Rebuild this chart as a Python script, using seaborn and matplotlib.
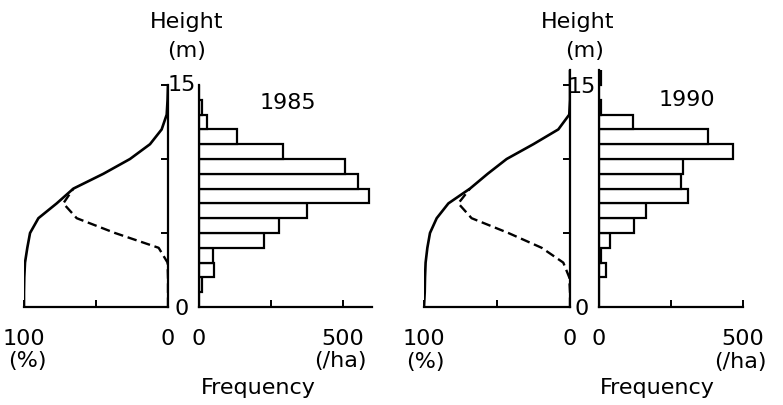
import numpy as np
import pandas as pd
import matplotlib
matplotlib.use("Agg")
import matplotlib.pyplot as plt
from matplotlib.ticker import FixedLocator
import seaborn as sns

# ---------------- data ----------------
heights_1985 = list(range(0, 16))
solid_1985 = [100, 100, 99.8, 99.3, 97.7, 95.8, 90, 77.3, 65.7, 44.9, 26.4, 12.5, 4.4, 0.9, 0.3, 0]
dash_heights = list(range(0, 9))
dashed_1985 = [0, 0, 0, 0.3, 6.5, 36.8, 63.4, 72.7, 65.7]
bins_1985 = list(range(0, 15))
freq_1985 = [0, 10, 52, 48, 224, 278, 373, 588, 550, 508, 293, 133, 27, 9, 0]

heights_1990 = list(range(0, 17))
solid_1990 = [100, 99.5, 99.3, 98.9, 97.7, 95.9, 91.3, 83.3, 68.5, 56.4, 43.4, 25.1, 8.0, 0.5, 0, 0, 0]
dashed_1990 = [0, 0, 0.5, 4.6, 19.4, 42.2, 67.4, 76.5, 68.5]
bins_1990 = list(range(0, 16))
freq_1990 = [0, 0, 25, 8, 39, 120, 162, 310, 283, 293, 467, 378, 118, 6, 0, 6]

years = ["1985", "1990"]

# ---------------- style ----------------
sns.set_style("white")
plt.rcParams["font.family"] = ["DejaVu Sans"]
plt.rcParams["axes.linewidth"] = 1.5
plt.rcParams["text.color"] = "black"
plt.rcParams["xtick.color"] = "black"
plt.rcParams["ytick.color"] = "black"
plt.rcParams["xtick.labelcolor"] = "black"
FS = 16

W, H = 783, 405
fig = plt.figure(figsize=(W / 100, H / 100), dpi=100)
fig.patch.set_facecolor("white")


def box(x0, x1, y0, y1):
    return [x0 / W, 1 - y0 / H, (x1 - x0) / W, (y0 - y1) / H]


def px(x, y):
    return x / W, 1 - y / H


panels = [
    dict(year="1985", h=heights_1985, s=solid_1985, d=dashed_1985, bins=bins_1985, f=freq_1985,
         ytop=15, xmax=600, L=(24, 168), R=(199, 372), ytoppx=307 - 14.8 * 15,
         t15=(182, 85), t0=(182, 309), hx=187, mx=187, yr=(288, 103),
         pct=(27, 361), ha=(340, 361), fq=(258, 388)),
    dict(year="1990", h=heights_1990, s=solid_1990, d=dashed_1990, bins=bins_1990, f=freq_1990,
         ytop=16, xmax=500, L=(424, 570), R=(599, 743), ytoppx=307 - 14.8 * 16,
         t15=(582, 87), t0=(582, 309), hx=578, mx=585, yr=(687, 100),
         pct=(425, 362), ha=(740, 362), fq=(657, 388)),
]

for p in panels:
    # ---- left: cumulative % curves ----
    axl = fig.add_axes(box(p["L"][0], p["L"][1], 307, p["ytoppx"]))
    df_s = pd.DataFrame({"pct": p["s"], "height": p["h"]})
    df_d = pd.DataFrame({"pct": p["d"], "height": dash_heights})
    sns.lineplot(data=df_s, x="pct", y="height", sort=False, estimator=None,
                 color="black", linewidth=1.9, ax=axl)
    sns.lineplot(data=df_d, x="pct", y="height", sort=False, estimator=None,
                 color="black", linewidth=1.7, linestyle=(0, (4, 2)), ax=axl)
    axl.set_xlim(100, 0)
    axl.set_ylim(0, p["ytop"])
    axl.set_xlabel("")
    axl.set_ylabel("")
    for sp in ["top", "left"]:
        axl.spines[sp].set_visible(False)
    for sp in ["bottom", "right"]:
        axl.spines[sp].set_color("black")
        axl.spines[sp].set_linewidth(1.6)
    axl.xaxis.set_major_locator(FixedLocator([100, 0]))
    axl.set_xticklabels(["100", "0"])
    axl.xaxis.set_minor_locator(FixedLocator([50]))
    axl.tick_params(axis="x", which="both", direction="in", length=5, width=1.4,
                    bottom=True, top=False, pad=16, labelsize=FS, labelcolor="black")
    axl.yaxis.tick_right()
    axl.yaxis.set_major_locator(FixedLocator([5, 10, 15]))
    axl.set_yticklabels([])
    axl.tick_params(axis="y", which="both", direction="in", length=5, width=1.4,
                    left=False, right=True, labelright=False)

    # ---- right: frequency histogram ----
    axr = fig.add_axes(box(p["R"][0], p["R"][1], 307, p["ytoppx"]))
    df_b = pd.DataFrame({"height": p["bins"], "freq": p["f"]})
    sns.histplot(data=df_b, y="height", weights="freq", binwidth=1,
                 binrange=(0, len(p["bins"])), color="white", edgecolor="black",
                 linewidth=1.6, alpha=1, ax=axr)
    axr.set_xlim(0, p["xmax"])
    axr.set_ylim(0, p["ytop"])
    axr.set_xlabel("")
    axr.set_ylabel("")
    for sp in ["top", "right"]:
        axr.spines[sp].set_visible(False)
    for sp in ["bottom", "left"]:
        axr.spines[sp].set_color("black")
        axr.spines[sp].set_linewidth(1.6)
    axr.xaxis.set_major_locator(FixedLocator([0, 500]))
    axr.set_xticklabels(["0", "500"])
    axr.xaxis.set_minor_locator(FixedLocator([250]))
    axr.tick_params(axis="x", which="both", direction="in", length=5, width=1.4,
                    bottom=True, top=False, pad=16, labelsize=FS, labelcolor="black")
    axr.set_yticks([])

    # ---- texts ----
    fig.text(*px(*p["t15"]), "15", ha="center", va="center", fontsize=FS)
    fig.text(*px(*p["t0"]), "0", ha="center", va="center", fontsize=FS)
    fig.text(*px(p["hx"], 22), "Height", ha="center", va="center", fontsize=FS)
    fig.text(*px(p["mx"], 51), "(m)", ha="center", va="center", fontsize=FS)
    fig.text(*px(*p["yr"]), p["year"], ha="center", va="center", fontsize=FS)
    fig.text(*px(*p["pct"]), "(%)", ha="center", va="center", fontsize=FS)
    fig.text(*px(*p["ha"]), "(/ha)", ha="center", va="center", fontsize=FS)
    fig.text(*px(*p["fq"]), "Frequency", ha="center", va="center", fontsize=FS)

fig.savefig("out.png", dpi=100, facecolor="white")
